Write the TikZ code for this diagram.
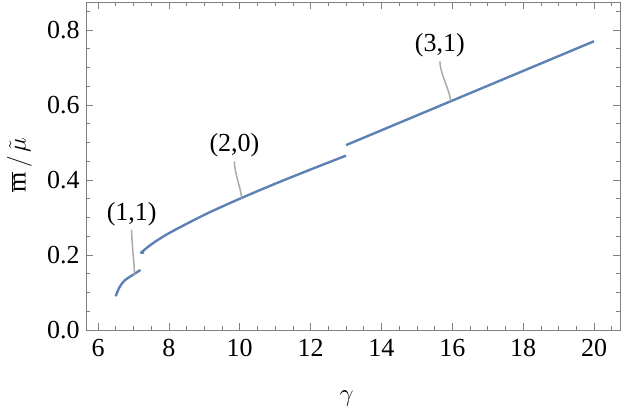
\documentclass[tikz,border=0pt]{standalone}
\usepackage{fontspec}
\setmainfont{Liberation Serif}
\begin{document}
\begin{tikzpicture}[x=1pt,y=1pt,
  curve/.style={draw={rgb,255:red,94;green,129;blue,181},line width=2.4pt},
  leader/.style={draw={rgb,255:red,170;green,170;blue,170},line width=1.5pt},
  lbl/.style={font=\fontsize{26}{26}\selectfont,inner sep=0pt},
  tick/.style={draw={rgb,255:red,128;green,128;blue,128},line width=0.7pt}]
\useasboundingbox (0,0) rectangle (623,415);
\begin{scope}[shift={(-114.58,85)},x=35.43pt,y=375pt]
  \draw[tick] (5.661,0) rectangle (20.747,0.8747);
  \foreach \g in {6,8,...,20}{
    \draw[tick] (\g,0) -- ++(0,7pt); \draw[tick] (\g,0.8747) -- ++(0,-7pt);
    \node[lbl,anchor=north] (xt\g) at (\g,-0.025) {\g};}
  \foreach \g in {6.5,7,...,20.5}{
    \draw[tick] (\g,0) -- ++(0,4pt); \draw[tick] (\g,0.8747) -- ++(0,-4pt);}
  \foreach \v/\t in {0/0.0,0.2/0.2,0.4/0.4,0.6/0.6,0.8/0.8}{
    \draw[tick] (5.661,\v) -- ++(7pt,0); \draw[tick] (20.747,\v) -- ++(-7pt,0);
    \node[lbl,anchor=east] (yt\t) at (5.49,\v) {\t};}
  \foreach \v in {0.05,0.1,...,0.86}{
    \draw[tick] (5.661,\v) -- ++(4pt,0); \draw[tick] (20.747,\v) -- ++(-4pt,0);}
  % curves
  \draw[curve] plot[smooth] coordinates {(6.5,0.09) (6.6,0.113) (6.75,0.132) (7,0.148) (7.2,0.16)};
  \draw[curve] plot[smooth] coordinates {(7.2,0.205) (7.5,0.228) (8,0.258) (9,0.307) (10,0.35) (11,0.39) (12,0.428) (13,0.465)};
  \draw[curve] (7.2,0.205) -- (7.3,0.207);
  \draw[curve] (13,0.493) -- (20,0.77);
  % labels
  \node[lbl] (l11) at (6.95,0.31) {(1,1)};
  \node[lbl] (l20) at (9.85,0.492) {(2,0)};
  \node[lbl] (l31) at (15.65,0.759) {(3,1)};
  \coordinate (p11) at (7.03,0.147);
  \coordinate (p20) at (10.05,0.352);
  \coordinate (p31) at (15.95,0.612);
  \draw[leader] (l11.south) ++(0,-4pt) .. controls +(0,-12pt) and +(0,8pt) .. (p11);
  \draw[leader] (l20.south) ++(0,-4pt) .. controls +(0,-12pt) and +(0,8pt) .. (p20);
  \draw[leader] (l31.south) ++(0,-4pt) .. controls +(0,-12pt) and +(0,8pt) .. (p31);
  \node[lbl] (xl) at (13.02,-0.182) {$\gamma$};
  \node[lbl,rotate=90] (yl) at (3.78,0.44) {$\overline{\mathrm{m}}\,/\,\tilde{\mu}$};
\end{scope}
\end{tikzpicture}
\end{document}
